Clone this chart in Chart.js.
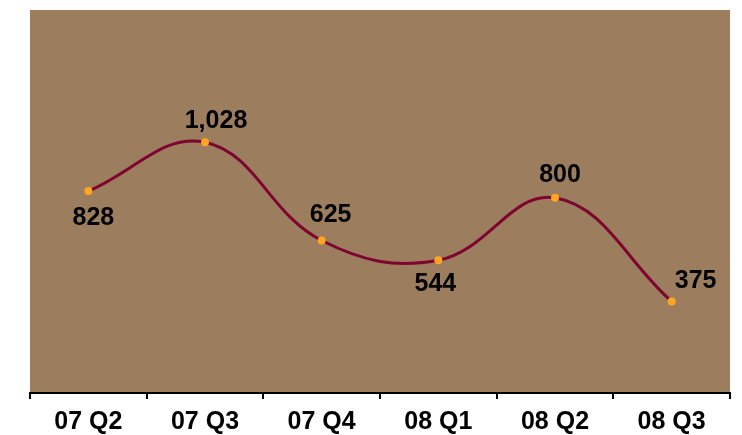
<!DOCTYPE html>
<html><head><meta charset="utf-8">
<script src="https://cdn.jsdelivr.net/npm/chart.js@4/dist/chart.umd.min.js"></script>
<style>html,body{margin:0;padding:0;background:#fff}#wrap{width:742px;height:435px}</style>
</head><body><div id="wrap"><canvas id="c" width="742" height="435"></canvas></div>
<script>
const categories = ["07 Q2","07 Q3","07 Q4","08 Q1","08 Q2","08 Q3"];
const values = [828, 1028, 625, 544, 800, 375];
const valueLabels = ["828","1,028","625","544","800","375"];

const bgPlugin = {
  id: 'bg',
  beforeDraw(chart){
    const {ctx, chartArea:a} = chart;
    ctx.save(); ctx.fillStyle = '#9C7E5F';
    ctx.fillRect(a.left, a.top, a.right-a.left, a.bottom-a.top);
    ctx.restore();
  }
};
const lblPlugin = {
  id: 'lbl',
  afterDatasetsDraw(chart, args, opts){
    const ctx = chart.ctx;
    const meta = chart.getDatasetMeta(0);
    ctx.save();
    ctx.font = 'bold 25px "Liberation Sans", Arial, sans-serif';
    ctx.fillStyle = '#000';
    ctx.textBaseline = 'middle';
    ctx.textAlign = 'center';
    meta.data.forEach((p,i)=>{
      const o = opts.offsets[i];
      ctx.fillText(valueLabels[i], p.x + o[0], p.y + o[1]);
    });
    ctx.restore();
  }
};

new Chart(document.getElementById('c'), {
  type: 'line',
  data: {
    labels: categories,
    datasets: [{
      data: values,
      borderColor: '#7E0530',
      borderWidth: 3,
      tension: 0.4,
      pointRadius: 4,
      pointBackgroundColor: '#FFA51F',
      pointBorderWidth: 0,
      fill: false
    }]
  },
  options: {
    responsive: false,
    animation: false,
    layout: { padding: { left: 30, right: 12, top: 10, bottom: 0 } },
    plugins: {
      legend: { display: false }, tooltip: { enabled: false },
      lbl: { offsets: [[5,27],[11,-21],[9,-25],[-3,24],[5,-23],[24,-20]] }
    },
    scales: {
      y: { display: false, min: 0, max: 1570 },
      x: {
        offset: true,
        afterFit(scale){ scale.height = 42; },
        grid: { offset: true, drawOnChartArea: false, drawTicks: true, tickLength: 6, color: '#000', lineWidth: 2 },
        border: { display: true, color: '#000', width: 2 },
        ticks: { color: '#000', padding: 8, font: { family: '"Liberation Sans", Arial, sans-serif', size: 25, weight: 'bold' } }
      }
    }
  },
  plugins: [bgPlugin, lblPlugin]
});
</script></body></html>
